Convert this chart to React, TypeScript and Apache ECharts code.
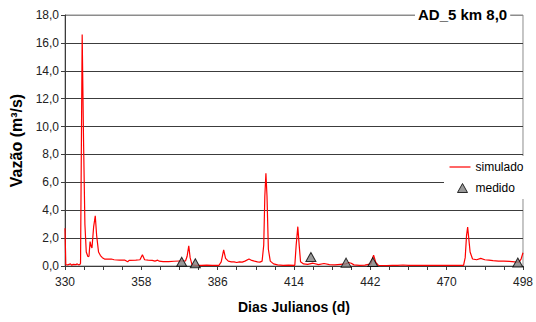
import React, { useEffect, useRef } from "react";
import * as echarts from "echarts";

// Simulated discharge (m³/s) by Julian day
const simDays = [
  330.0, 330.3, 331, 332, 332.5, 333, 334, 334.5, 335, 335.5, 335.7, 336.3, 336.8, 337.3, 337.8,
  338.4, 338.8, 339.2, 339.6, 339.9, 340.5, 341.1, 341.6, 342.3, 343, 343.7, 344.5, 345.5, 347,
  348, 350, 352, 353, 353.5, 356, 357.5, 358.4, 359.2, 360.5, 362, 363, 364, 364.5, 366, 368,
  370, 372, 374.2, 374.8, 375.4, 375.9, 376.6, 378, 380, 382, 384, 386.5, 387.3, 388.2, 388.9,
  389.9, 391, 392, 393, 394, 395, 396, 397.5, 398.5, 399.5, 400.6, 401.5, 402.3, 402.9, 403.3,
  403.7, 404.1, 404.6, 405.3, 406.5, 408, 410, 412, 414.3, 414.8, 415.4, 415.9, 416.4, 417.5,
  419, 421, 423, 425, 427, 429, 431, 433, 434, 435, 436, 438, 440, 442.2, 443.2, 444, 445, 448,
  450, 452, 454, 456, 460, 464, 468, 472, 476.2, 476.8, 477.3, 477.7, 478.1, 478.6, 479.5, 481,
  482.5, 484, 485.5, 487, 489, 491, 493, 495, 496.5, 497.3, 498,
];
const simFlow = [
  2.7, 0.1, 0.08, 0.15, 0.05, 0.12, 0.1, 0.15, 0.08, 0.12, 0.2, 16.6, 9.0, 3.0, 1.0,
  0.67, 0.7, 1.75, 1.4, 1.3, 2.8, 3.6, 2.2, 1.0, 0.75, 0.6, 0.5, 0.5, 0.5,
  0.45, 0.42, 0.42, 0.3, 0.4, 0.42, 0.45, 0.8, 0.45, 0.42, 0.4, 0.35, 0.42, 0.35, 0.32, 0.32,
  0.34, 0.36, 0.36, 0.7, 1.45, 0.6, 0.08, 0.05, 0.04, 0.06, 0.04, 0.05, 0.3, 1.15, 0.55,
  0.35, 0.3, 0.3, 0.25, 0.3, 0.28, 0.35, 0.5, 0.4, 0.35, 0.3, 0.28, 0.35, 1.5, 5.0,
  6.65, 5.0, 1.2, 0.35, 0.15, 0.08, 0.05, 0.06, 0.05, 1.5, 2.82, 1.5, 0.3, 0.15,
  0.12, 0.2, 0.1, 0.18, 0.1, 0.08, 0.12, 0.15, 0.25, 0.2, 0.08, 0.05, 0.06, 0.15, 0.78, 0.25, 0.05, 0.03,
  0.05, 0.04, 0.07, 0.05, 0.05, 0.04, 0.05, 0.05, 0.05, 0.6, 2.2, 2.8, 2.0, 1.0, 0.5, 0.45,
  0.55, 0.45, 0.42, 0.38, 0.35, 0.35, 0.33, 0.3, 0.28, 0.5, 0.95,
];

// Measured discharge (m³/s)
const obsDays = [372.8, 377.8, 420.2, 433.1, 442.9, 496.1];
const obsFlow = [0.3, 0.2, 0.65, 0.24, 0.28, 0.25];

const xMin = 330;
const xMax = 498;
const xStep = 7;
const xLabelStep = 28;
const yMax = 18;
const yStep = 2;

const chartTitle = "AD_5 km 8,0";
const xName = "Dias Julianos (d)";
const yName = "Vazão (m³/s)";
const simName = "simulado";
const obsName = "medido";

const FONT = "'Liberation Sans', Arial, sans-serif";
const RED = "#ff0000";
const GREY = "#808080";

// Legend icons drawn inside a 21×10 box: a thin line, and a small triangle
const LINE_ICON = "path://M0,0 H21 V1.2 H0 Z";
const TRIANGLE_ICON = "path://M0,0 Z M21,10 Z M13,0.5 L18,9.5 L8,9.5 Z";

export default function App() {
  const ref = useRef<HTMLDivElement>(null);

  useEffect(() => {
    if (!ref.current) return;
    const chart = echarts.init(ref.current, undefined, { renderer: "svg" });

    const nLines = yMax / yStep + 1;
    const splitColors = Array.from({ length: nLines }, (_, i) =>
      i === nLines - 1 ? "#8c8c8c" : "#3c3c3c"
    );

    chart.setOption({
      animation: false,
      backgroundColor: "#ffffff",
      textStyle: { fontFamily: FONT },
      title: {
        text: chartTitle,
        left: 415,
        top: 6,
        padding: [1, 3],
        backgroundColor: "#ffffff",
        textStyle: { fontFamily: FONT, fontSize: 15, fontWeight: "bold", color: "#000" },
      },
      legend: {
        orient: "vertical",
        left: 444,
        top: 156,
        padding: [5, 10, 5, 5],
        itemGap: 9,
        itemWidth: 21,
        itemHeight: 10,
        backgroundColor: "#ffffff",
        textStyle: { fontFamily: FONT, fontSize: 12, color: "#000" },
        data: [
          {
            name: simName,
            icon: LINE_ICON,
            itemStyle: { color: RED, borderWidth: 0 },
          },
          {
            name: obsName,
            icon: TRIANGLE_ICON,
            itemStyle: { color: GREY, borderColor: "#000", borderWidth: 1 },
          },
        ],
      },
      grid: {
        left: 65,
        right: 2,
        top: 15,
        bottom: 56,
        show: true,
        borderColor: "#8c8c8c",
        borderWidth: 1,
      },
      xAxis: {
        type: "value",
        min: xMin,
        max: xMax,
        interval: xStep,
        name: xName,
        nameLocation: "middle",
        nameGap: 34,
        nameTextStyle: { fontFamily: FONT, fontSize: 14, fontWeight: "bold", color: "#000" },
        axisLine: { show: true, lineStyle: { color: "#3c3c3c", width: 1 } },
        axisTick: { show: true, length: 4, inside: false, lineStyle: { color: "#3c3c3c" } },
        splitLine: { show: false },
        axisLabel: {
          margin: 10,
          fontFamily: FONT,
          fontSize: 12,
          color: "#222",
          showMaxLabel: true,
          formatter: (v: number) => ((v - xMin) % xLabelStep === 0 ? String(v) : ""),
        },
      },
      yAxis: {
        type: "value",
        min: 0,
        max: yMax,
        interval: yStep,
        name: yName,
        nameLocation: "middle",
        nameGap: 40,
        nameTextStyle: { fontFamily: FONT, fontSize: 16, fontWeight: "bold", color: "#000" },
        axisLine: { show: true, lineStyle: { color: "#3c3c3c", width: 1 } },
        axisTick: { show: true, length: 4, inside: false, lineStyle: { color: "#3c3c3c" } },
        splitLine: { show: true, lineStyle: { color: splitColors, width: 1 } },
        axisLabel: {
          margin: 6,
          fontFamily: FONT,
          fontSize: 12,
          color: "#222",
          formatter: (v: number) => v.toFixed(1).replace(".", ","),
        },
      },
      series: [
        {
          name: simName,
          type: "line",
          data: simDays.map((d, i) => [d, simFlow[i]]),
          symbol: "none",
          showSymbol: false,
          lineStyle: { color: RED, width: 1.2 },
          itemStyle: { color: RED },
          z: 2,
        },
        {
          name: obsName,
          type: "scatter",
          data: obsDays.map((d, i) => [d, obsFlow[i]]),
          symbol: "triangle",
          symbolSize: [10, 9],
          itemStyle: { color: GREY, borderColor: "#000", borderWidth: 1 },
          z: 3,
        },
      ],
    });

    return () => chart.dispose();
  }, []);

  return (
    <div
      ref={ref}
      style={{ position: "fixed", left: 0, top: 0, width: 536, height: 322 }}
    />
  );
}
